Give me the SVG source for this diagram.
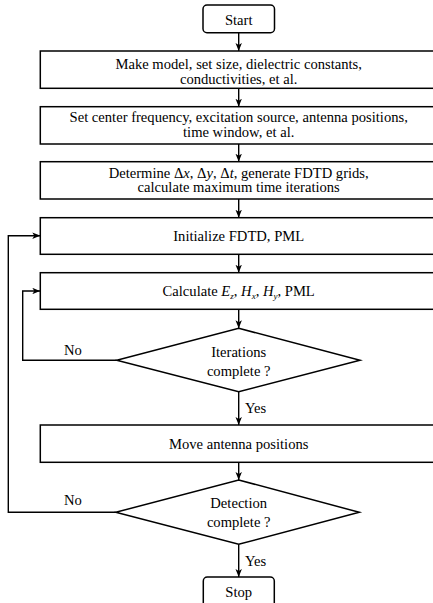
<svg xmlns="http://www.w3.org/2000/svg" width="433" height="603" viewBox="0 0 433 603">
<defs>
<style>
.s{fill:#fff;stroke:#000;stroke-width:1.5}
.c{fill:none;stroke:#000;stroke-width:1.4}
.l{text-anchor:start}
.i{font-style:italic}
.sub{font-size:9px;font-style:italic}
</style>
<marker id="ah" viewBox="0 0 10 8" refX="10" refY="4" markerWidth="8" markerHeight="6.5" markerUnits="userSpaceOnUse" orient="auto">
<path d="M0,0 L10,4 L0,8 L2.5,4 Z" fill="#000"/>
</marker>
</defs>
<rect width="433" height="603" fill="#fff"/>
<g font-family="'Liberation Serif', serif" font-size="14.6" text-anchor="middle" fill="#000">
<g id="connectors">
<line class="c" x1="238.7" y1="32.7" x2="238.7" y2="51" marker-end="url(#ah)"/>
<line class="c" x1="238.7" y1="88.3" x2="238.7" y2="106.7" marker-end="url(#ah)"/>
<line class="c" x1="238.7" y1="144" x2="238.7" y2="161.7" marker-end="url(#ah)"/>
<line class="c" x1="238.7" y1="199" x2="238.7" y2="217.7" marker-end="url(#ah)"/>
<line class="c" x1="238.7" y1="254.3" x2="238.7" y2="272.7" marker-end="url(#ah)"/>
<line class="c" x1="238.7" y1="309.3" x2="238.7" y2="328.3" marker-end="url(#ah)"/>
<line class="c" x1="238.7" y1="391.7" x2="238.7" y2="425" marker-end="url(#ah)"/>
<line class="c" x1="238.7" y1="462.3" x2="238.7" y2="480" marker-end="url(#ah)"/>
<line class="c" x1="238.7" y1="544.3" x2="238.7" y2="577" marker-end="url(#ah)"/>
<polyline class="c" points="116.7,360.3 22.7,360.3 22.7,291 40.3,291" marker-end="url(#ah)"/>
<polyline class="c" points="115.7,512.3 8.3,512.3 8.3,235.7 40.3,235.7" marker-end="url(#ah)"/>
<text class="l" x="64" y="355">No</text>
<text class="l" x="64" y="505">No</text>
<text class="l" x="245" y="413.3">Yes</text>
<text class="l" x="245" y="565.7">Yes</text>
</g>
<g id="start">
<rect class="s" x="203" y="5" width="71.5" height="27.7" rx="4"/>
<text x="238.7" y="24.5">Start</text>
</g>
<g id="model">
<rect class="s" x="40.3" y="51" width="400" height="37.3"/>
<text x="238.7" y="69.3">Make model, set size, dielectric constants,</text>
<text x="238.7" y="84">conductivities, et al.</text>
</g>
<g id="setup">
<rect class="s" x="40.3" y="106.7" width="400" height="37.3"/>
<text x="238.7" y="122">Set center frequency, excitation source, antenna positions,</text>
<text x="238.7" y="136.7">time window, et al.</text>
</g>
<g id="grid">
<rect class="s" x="40.3" y="161.7" width="400" height="37.3"/>
<text x="238.7" y="177.5">Determine Δ<tspan class="i">x</tspan>, Δ<tspan class="i">y</tspan>, Δ<tspan class="i">t</tspan>, generate FDTD grids,</text>
<text x="238.7" y="192.3">calculate maximum time iterations</text>
</g>
<g id="init">
<rect class="s" x="40.3" y="217.7" width="400" height="36.6"/>
<text x="238.7" y="241">Initialize FDTD, PML</text>
</g>
<g id="calc">
<rect class="s" x="40.3" y="272.7" width="400" height="36.6"/>
<text x="238.7" y="296">Calculate <tspan class="i">E</tspan><tspan class="sub" dy="3">z</tspan><tspan dy="-3">, </tspan><tspan class="i">H</tspan><tspan class="sub" dy="3">x</tspan><tspan dy="-3">, </tspan><tspan class="i">H</tspan><tspan class="sub" dy="3">y</tspan><tspan dy="-3">, PML</tspan></text>
</g>
<g id="iter">
<polygon class="s" points="238.7,328.3 360,360.3 238.7,391.7 116.7,360.3"/>
<text x="238.7" y="357.3">Iterations</text>
<text x="238.7" y="376.3">complete ?</text>
</g>
<g id="move">
<rect class="s" x="40.3" y="425" width="400" height="37.3"/>
<text x="238.7" y="448.5">Move antenna positions</text>
</g>
<g id="detect">
<polygon class="s" points="238.7,480 359.3,512.3 238.7,544.3 115.7,512.3"/>
<text x="238.7" y="508.3">Detection</text>
<text x="238.7" y="527.3">complete ?</text>
</g>
<g id="stop">
<rect class="s" x="203.3" y="577" width="71" height="40" rx="4"/>
<text x="238.7" y="596.7">Stop</text>
</g>
</g>
</svg>
